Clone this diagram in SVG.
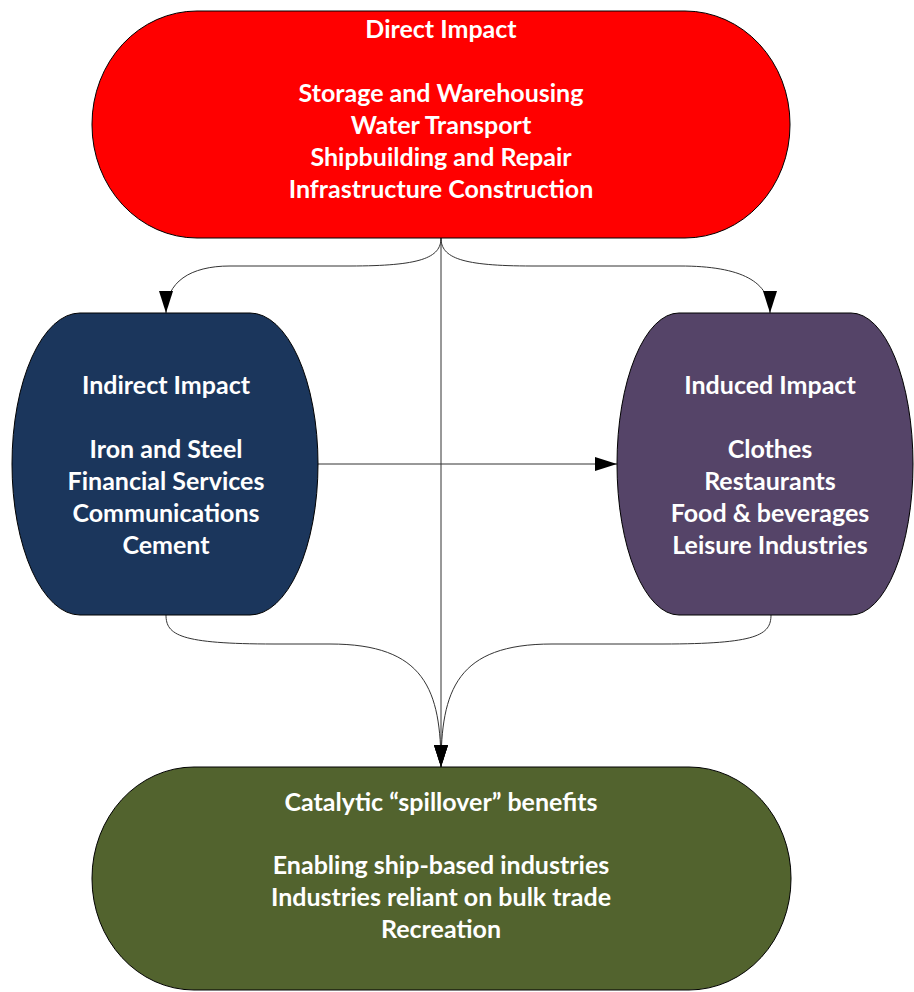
<svg xmlns="http://www.w3.org/2000/svg" width="914" height="992" viewBox="0 0 914 992">
<style>
.node{stroke:#000;stroke-width:1}
.t{font-family:Lato,"Liberation Sans",sans-serif;font-weight:bold;font-size:25px;fill:#fff;text-anchor:middle}
.c{fill:none;stroke:#333;stroke-width:1}
</style>
<defs>
<marker id="ah" markerUnits="userSpaceOnUse" markerWidth="22" markerHeight="14" refX="22" refY="7" orient="auto" viewBox="0 0 22 14">
<path d="M0,0 L22,7 L0,14 Z" fill="#000"/>
</marker>
</defs>
<g id="connectors">
<path class="c" d="M441,238 L441,767" marker-end="url(#ah)"/>
<path class="c" d="M441,238 C441,258 420,266 350,266 L230,266 C190,266 166,282 166,313" marker-end="url(#ah)"/>
<path class="c" d="M441,238 C441,258 462,266 532,266 L680,266 C742,266 770,282 770,313" marker-end="url(#ah)"/>
<path class="c" d="M318,464 L617,464" marker-end="url(#ah)"/>
<path class="c" d="M166,615 C166,635 180,644 274,644 L330,644 C425,644 441,690 441,767" marker-end="url(#ah)"/>
<path class="c" d="M771,615 C771,635 757,644 663,644 L552,644 C457,644 441,690 441,767" marker-end="url(#ah)"/>
</g>
<g id="direct">
<rect class="node" x="92" y="11" width="698" height="227" rx="105" ry="113" fill="#FF0000"/>
<text class="t" x="441" y="38">Direct Impact</text>
<text class="t" x="441" y="102">Storage and Warehousing</text>
<text class="t" x="441" y="134">Water Transport</text>
<text class="t" x="441" y="166">Shipbuilding and Repair</text>
<text class="t" x="441" y="198">Infrastructure Construction</text>
</g>
<g id="indirect">
<rect class="node" x="12" y="313" width="306" height="302" rx="68" ry="151" fill="#1B365C"/>
<text class="t" x="166" y="394">Indirect Impact</text>
<text class="t" x="166" y="458">Iron and Steel</text>
<text class="t" x="166" y="490">Financial Services</text>
<text class="t" x="166" y="522">Communications</text>
<text class="t" x="166" y="554">Cement</text>
</g>
<g id="induced">
<rect class="node" x="617" y="313" width="296" height="302" rx="62" ry="151" fill="#554468"/>
<text class="t" x="770" y="394">Induced Impact</text>
<text class="t" x="770" y="458">Clothes</text>
<text class="t" x="770" y="490">Restaurants</text>
<text class="t" x="770" y="522">Food &amp; beverages</text>
<text class="t" x="770" y="554">Leisure Industries</text>
</g>
<g id="catalytic">
<rect class="node" x="92" y="767" width="699" height="223" rx="102" ry="111" fill="#52632E"/>
<text class="t" x="441" y="811">Catalytic “spillover” benefits</text>
<text class="t" x="441" y="874">Enabling ship-based industries</text>
<text class="t" x="441" y="906">Industries reliant on bulk trade</text>
<text class="t" x="441" y="938">Recreation</text>
</g>
</svg>
